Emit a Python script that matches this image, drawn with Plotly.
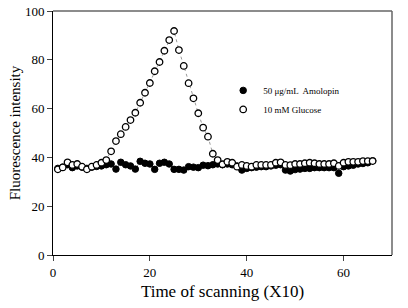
import plotly.graph_objects as go

time_x = list(range(1, 67))
amolopin = [35.5, 36, 37, 35.8, 36.5, 36, 35.5, 36, 36.3, 36.5,
            37, 37.3, 35.2, 38, 37, 36.5, 35.2, 38.4, 37.6, 37.3,
            35.1, 37.6, 38, 37.3, 35.1, 35.1, 34.8, 36.2, 36, 35.8,
            36.8, 36.6, 37, 37.3, 37, 37.3, 37, 36.5, 34.8, 35.5,
            35.8, 36, 36.2, 36.2, 36.5, 36.8, 37, 34.8, 34.4, 35,
            35.2, 35.5, 35.5, 35.8, 35.8, 35.8, 35.8, 35.8, 33.5, 36.2,
            36.5, 36.8, 37.3, 37.5, 37.8, 38.6]
glucose = [35.1, 35.9, 38, 36.9, 37.3, 36.2, 35.1, 36.2, 36.9, 37.8,
           38.9, 42.5, 46.7, 49.5, 52.5, 55.3, 58.3, 62.4, 66.5, 70.5,
           75.3, 79.1, 83.7, 88.1, 91.8, 84, 77.5, 70.4, 64.2, 58.1,
           52.2, 48.5, 41.5, 38.9, 37.2, 38.2, 37.8, 36.2, 36.9, 36.5,
           36.2, 36.9, 36.9, 36.9, 36.9, 37.8, 38, 36.9, 36.8, 37.3,
           37.3, 37.6, 37.8, 37.6, 37.3, 37.3, 37.3, 37.6, 36.5, 37.8,
           38.2, 38.2, 38.2, 38.5, 38.5, 38.5]
x_ticks = [0, 20, 40, 60]
y_ticks = [0, 20, 40, 60, 80, 100]

serif = "Liberation Serif, Times New Roman, serif"

fig = go.Figure()
# dotted connecting lines (no legend)
fig.add_trace(go.Scatter(x=time_x, y=amolopin, mode="lines", showlegend=False,
                         hoverinfo="skip",
                         line=dict(color="#999999", width=1, dash="dot")))
fig.add_trace(go.Scatter(x=time_x, y=glucose, mode="lines", showlegend=False,
                         hoverinfo="skip",
                         line=dict(color="#999999", width=1, dash="dot")))
# markers
fig.add_trace(go.Scatter(
    x=time_x, y=amolopin, mode="markers", name="50 μg/mL  Amolopin",
    marker=dict(symbol="circle", size=6.5, color="black",
                line=dict(color="black", width=1))))
fig.add_trace(go.Scatter(
    x=time_x, y=glucose, mode="markers", name="10 mM Glucose",
    marker=dict(symbol="circle", size=6.5, color="white",
                line=dict(color="black", width=1.3))))

fig.update_layout(
    width=408, height=308,
    margin=dict(l=53, r=16, t=11, b=53),
    paper_bgcolor="white", plot_bgcolor="white",
    font=dict(family=serif, color="black", size=12),
    showlegend=True,
    legend=dict(x=0.502, y=0.734, xanchor="left", yanchor="top",
                bgcolor="rgba(0,0,0,0)",
                font=dict(family=serif, size=9, color="black"),
                itemwidth=30, tracegroupgap=0),
    xaxis=dict(range=[0, 70], tickvals=x_ticks, ticks="outside", ticklen=5,
               showline=True, linecolor="black", linewidth=1, showgrid=False,
               zeroline=False, automargin=False, ticklabeloverflow="allow",
               tickfont=dict(family=serif, size=13, color="black"),
               title=dict(text="Time of scanning (X10)",
                          font=dict(family=serif, size=17, color="black"),
                          standoff=6)),
    yaxis=dict(range=[0, 100], tickvals=y_ticks, ticks="outside", ticklen=5,
               showline=True, linecolor="black", linewidth=1, showgrid=False,
               zeroline=False, automargin=False, ticklabeloverflow="allow",
               tickfont=dict(family=serif, size=13, color="black"),
               title=dict(text="Fluorescence intensity",
                          font=dict(family=serif, size=15, color="black"),
                          standoff=0)),
)
fig.add_shape(type="line", xref="paper", yref="paper", x0=0, x1=1, y0=1, y1=1,
              line=dict(color="#666666", width=1.5))
fig.add_shape(type="line", xref="paper", yref="paper", x0=1, x1=1, y0=0, y1=1,
              line=dict(color="#666666", width=1.5))

fig.write_html("out.html",
               config={"displayModeBar": False},
               post_script="document.body.style.margin='0';document.body.style.padding='0';")
